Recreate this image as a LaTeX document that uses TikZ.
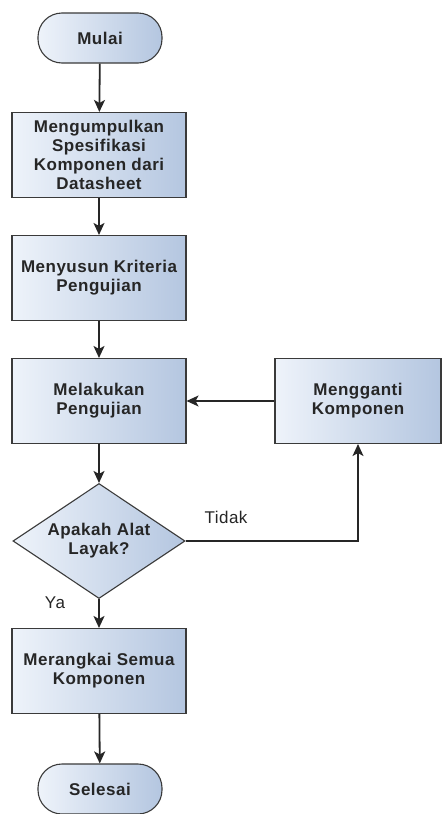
\documentclass[tikz,border=0pt]{standalone}
\usepackage{fontspec}
\setmainfont{Liberation Sans}[LetterSpace=3]
\usetikzlibrary{arrows.meta,shapes.geometric,positioning}
\definecolor{boxL}{HTML}{EEF3FA}
\definecolor{boxR}{HTML}{B4C6E0}
\definecolor{edge}{HTML}{3A3A3A}
\tikzset{
  base/.style={draw=edge, line width=1.1pt, left color=boxL, right color=boxR,
    align=center, font=\fontsize{17}{19}\selectfont\bfseries, text=black!85, inner sep=0pt},
  procbox/.style={base, minimum width=174pt, minimum height=85pt},
  termbox/.style={base, rounded corners=24pt, minimum width=124pt, minimum height=50pt},
  decbox/.style={base, diamond, aspect=1.5, minimum width=172pt, minimum height=115pt},
  conn/.style={draw=black!85, line width=1.8pt, -{Stealth[length=12pt,width=11pt,inset=3pt]}},
  thinconn/.style={draw=black!85, line width=1.1pt, -{Stealth[length=12pt,width=11pt,inset=3pt]}},
  lbl/.style={font=\fontsize{17}{19}\selectfont, text=black!85, inner sep=0pt}
}
\begin{document}
\begin{tikzpicture}[x=1pt,y=-1pt]
\useasboundingbox[fill=white] (0,0) rectangle (442,814);
\node[termbox] (mulai) at (100,38) {Mulai};
\node[procbox] (b1) at (99,155) {Mengumpulkan\\Spesifikasi\\Komponen dari\\Datasheet};
\node[procbox] (b2) at (99,278) {Menyusun Kriteria\\Pengujian};
\node[procbox] (b3) at (99,401) {Melakukan\\Pengujian};
\node[procbox, minimum width=166pt] (b4) at (358,401) {Mengganti\\Komponen};
\node[decbox] (dia) at (99,541) {Apakah Alat\\Layak?};
\node[procbox] (b5) at (99,671) {Merangkai Semua\\Komponen};
\node[termbox] (sel) at (100,789) {Selesai};
\node[lbl] (tidak) at (226,517) {Tidak};
\node[lbl] (ya) at (55,603) {Ya};
\draw[conn] (mulai) -- (b1);
\draw[conn] (b1) -- (b2);
\draw[conn] (b2) -- (b3);
\draw[conn] (b3) -- (dia);
\draw[conn] (dia) -- (b5);
\draw[conn] (b5) -- (sel);
\draw[thinconn] (b4.west) -- (b3.east);
\draw[thinconn] (dia.east) -| (b4.south);
\end{tikzpicture}
\end{document}
